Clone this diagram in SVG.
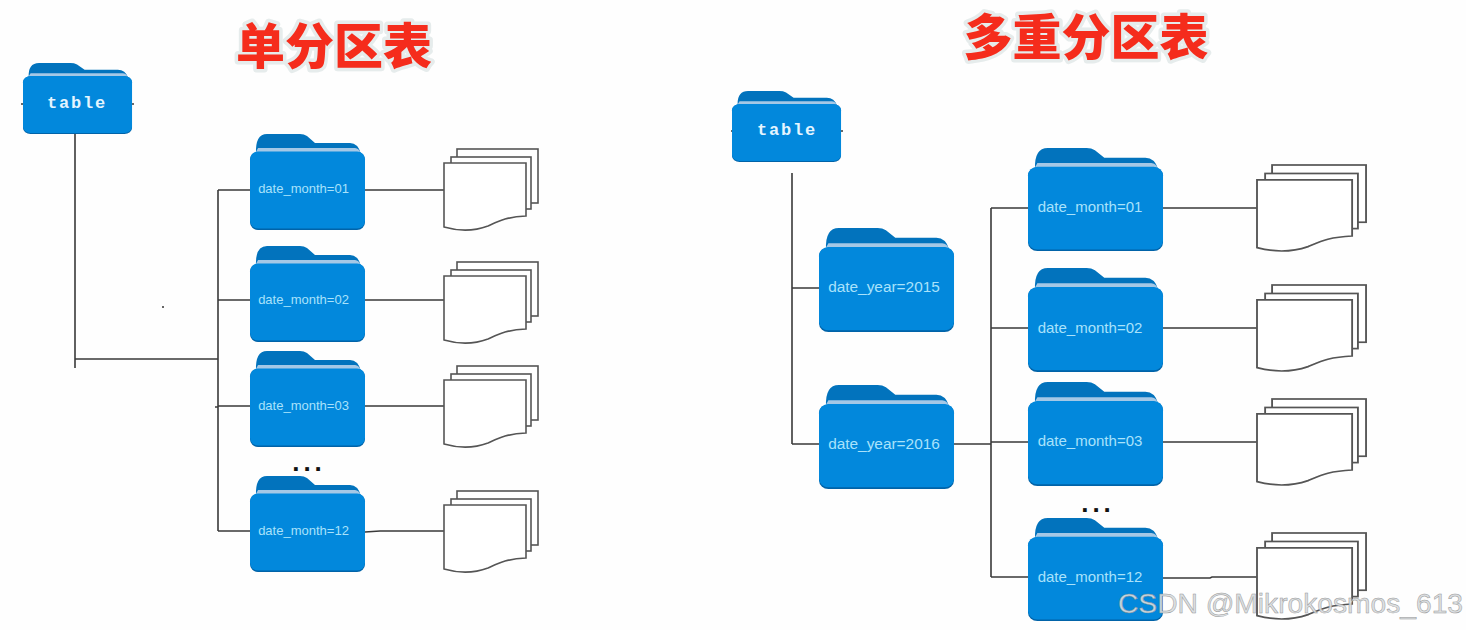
<svg xmlns="http://www.w3.org/2000/svg" width="1466" height="630" viewBox="0 0 1466 630">
<style>
.c{fill:none;stroke:#3a3a3a;stroke-width:1.6}
.s{fill:#fff;stroke:#555;stroke-width:1.6}
.m,.y{font-family:"Liberation Sans",Arial,sans-serif;fill:#a9e2fb;text-anchor:middle}
.m{font-size:13px}
.m2{font-size:15px}
.y{font-size:15.4px}
.t{font-family:"Liberation Mono","Courier New",monospace;font-weight:700;font-size:17px;letter-spacing:1.8px;fill:#e4f5ff;text-anchor:middle}
.h{font-family:"Noto Sans CJK SC",sans-serif;font-weight:900;fill:#f52c1c;stroke:#e6ecec;stroke-width:7px;paint-order:stroke;stroke-linejoin:round;text-anchor:middle}
.d{font-family:"Liberation Sans",Arial,sans-serif;font-weight:700;font-size:26px;letter-spacing:4px;fill:#111;text-anchor:middle}
.w{font-family:"Liberation Sans",Arial,sans-serif;font-size:28.200px;fill:#d9dde0;stroke:#8e8e8e;stroke-width:.5px;opacity:.9}
</style>
<defs>
<g id="folder">
<path d="M6,20Q5,0 17,0L50,0Q54,0 57,2L65,9L100,9Q108,9 111,20Z" fill="#0273bd"/>
<path d="M8,14L105,14Q109,14 111,20L5,20Z" fill="#a5c8e6"/>
<rect x="0" y="18" width="115" height="78" rx="8" fill="#0163a8"/>
<rect x="0" y="17.500" width="115" height="77" rx="8" fill="#0288dc"/>
</g>
<g id="docs">
<rect class="s" x="13" y="0" width="81" height="54"/>
<rect class="s" x="7" y="8" width="80" height="52"/>
<path class="s" d="M0,14L82,14L82,67C62,68 55,72 44,77C28,83 14,82 0,78Z"/>
</g>
</defs>
<rect width="1466" height="630" fill="#fefefe"/>
<g id="connectors">
<path class="c" d="M75,134V368M75,359H218M218,190V531M218,190H250M218,300H250M218,406H250M215,407H218M218,531H250"/>
<path class="c" d="M365,190H444M365,300H444M365,406H444M365,532L380,531H444"/>
<path class="c" d="M792,173V444M792,288H819M792,444H819M954,444H991M991,208V577M991,208H1028M991,328H1028M991,442H1028M991,577H1028"/>
<path class="c" d="M1163,208H1257M1163,328H1257M1163,442H1257M1163,578H1210L1212,577H1257"/>
<path class="c" d="M21,104H24M131,104H134M731,131H733M840,131H843"/>
</g>
<g id="title-single"><text class="h" x="334" y="64" font-size="49">单分区表</text></g>
<g id="title-multi"><text class="h" x="1086" y="55" font-size="49">多重分区表</text></g>
<g id="table-a"><use href="#folder" transform="translate(23,63) scale(.948,.74)"/><text class="t" x="77" y="108">table</text></g>
<g id="month-a01"><use href="#folder" transform="translate(250,134)"/><text class="m" x="303.500" y="193">date_month=01</text></g>
<g id="month-a02"><use href="#folder" transform="translate(250,246)"/><text class="m" x="303.500" y="304">date_month=02</text></g>
<g id="month-a03"><use href="#folder" transform="translate(250,351)"/><text class="m" x="303.500" y="410">date_month=03</text></g>
<g id="month-a12"><use href="#folder" transform="translate(250,476)"/><text class="m" x="303.500" y="535">date_month=12</text></g>
<g id="docs-a01"><use href="#docs" transform="translate(444,149)"/></g>
<g id="docs-a02"><use href="#docs" transform="translate(444,262)"/></g>
<g id="docs-a03"><use href="#docs" transform="translate(444,366)"/></g>
<g id="docs-a12"><use href="#docs" transform="translate(444,491)"/></g>
<text class="d" x="309" y="471">...</text>
<g id="table-b"><use href="#folder" transform="translate(732,91) scale(.948,.74)"/><text class="t" x="787" y="135">table</text></g>
<g id="year-2015"><use href="#folder" transform="translate(819,228) scale(1.174,1.083)"/><text class="y" x="884" y="292">date_year=2015</text></g>
<g id="year-2016"><use href="#folder" transform="translate(819,385) scale(1.174,1.083)"/><text class="y" x="884" y="449">date_year=2016</text></g>
<g id="month-b01"><use href="#folder" transform="translate(1028,148) scale(1.174,1.073)"/><text class="m m2" x="1090" y="212">date_month=01</text></g>
<g id="month-b02"><use href="#folder" transform="translate(1028,268) scale(1.174,1.083)"/><text class="m m2" x="1090" y="333">date_month=02</text></g>
<g id="month-b03"><use href="#folder" transform="translate(1028,382) scale(1.174,1.083)"/><text class="m m2" x="1090" y="446">date_month=03</text></g>
<g id="month-b12"><use href="#folder" transform="translate(1028,518) scale(1.174,1.073)"/><text class="m m2" x="1090" y="582">date_month=12</text></g>
<g id="docs-b01"><use href="#docs" transform="translate(1257,165) scale(1.16,1.06)"/></g>
<g id="docs-b02"><use href="#docs" transform="translate(1257,285) scale(1.16,1.06)"/></g>
<g id="docs-b03"><use href="#docs" transform="translate(1257,399) scale(1.16,1.06)"/></g>
<g id="docs-b12"><use href="#docs" transform="translate(1257,533) scale(1.16,1.06)"/></g>
<text class="d" x="1098" y="512">...</text>
<circle cx="163" cy="307" r="1" fill="#333"/>
<text class="w" x="1118" y="613">CSDN @Mikrokosmos_613</text>
</svg>
